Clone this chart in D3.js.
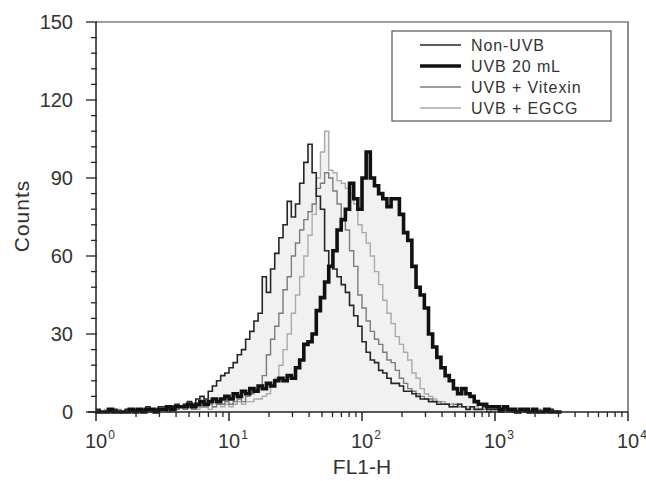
<!DOCTYPE html>
<html>
<head>
<meta charset="utf-8">
<script src="https://cdn.jsdelivr.net/npm/d3@7"></script>
<style>
  body { margin: 0; background: #fff; }
  svg text { font-family: "Liberation Sans", Arial, sans-serif; fill: #333; }
</style>
</head>
<body>
<div id="chart"></div>
<script>
// histogram bins: 32 bins per decade, starting at 10^0
const binsPerDecade = 32;

// counts per bin
const nonUVB = [
  1,0,0,0,1,0, 0,1,0,1,1, 1,2,1,1,2, 2,1,2,3,2, 3,4,3,5,6,
  5,8,10,12,14,15,17,19,22,24,28,31,35,38,52,46,55,61,67,72,81,75,80,88,96,103,
  92,83,78,62,56,55,52,49,46,41,37,33,27,23,20,19,16,15,13,11,11,10,8,8,7,6,5,5,4,
  4,3,3,3,2, 2,3,2,1,2, 1,1,2,1,1, 1,0,1,1,0, 0,1,0,0,1,0,0,0,1,0,0
];
const uvb20 = [
  0,0,0,1,0,0, 0,0,1,0,1, 0,1,1,0,1, 1,2,1,2,2, 2,3,2,3,4,
  3,4,5,4,5, 6,5,7,6,8, 7,9,8,10,9,
  11,10,12,13,12,14,13,17,20,26,27,30,39,44,50,56,62,70,74,78,88,82,78,90,100,
  90,87,84,82,79,82,82,76,69,66,56,48,45,40,30,25,21,17,14,12,9,7,9,7,6,4,3,
  3,2,2,2,1, 2,1,1,0,1,1,0, 1,0,0,1,0,0,0
];
const uvbVitexin = [
  0,0,0,0,0,1, 0,0,0,1,0, 0,1,0,1,1, 1,1,2,1,2, 1,2,1,2,2,
  2,3,2,3,3, 4,3,4,5,4,
  6,7,9,10,14,22,28,33,38,47,52,60,65,70,74,77,80,86,88,92,90,85,80,74,70,62,56,
  45,40,35,31,28,26,23,20,19,16,13,11,9,8,7,6,5,5,
  4,4,3,3,2, 3,2,2,1,2, 1,1,1,0,1,1,0,1,0,0, 0,1,0,0,0,1,0,0,0,0,0
];
const uvbEGCG = [
  0,0,1,0,0,0, 0,0,0,0,1, 0,0,1,0,1, 1,0,1,1,2, 1,2,1,1,2,
  2,1,2,3,2, 3,2,3,4,3,
  4,4,5,5,6,7,10,13,18,24,30,38,45,52,60,68,76,90,100,108,93,92,89,88,86,84,80,
  72,69,65,60,54,49,43,38,34,29,26,23,20,15,13,9,7,6,
  5,4,4,3,3, 2,3,2,2,1, 2,1,1,1,0,1,1,0,1,0, 0,0,1,0,0,0,1,0,0,0,0
];

const seriesNames = ["Non-UVB", "UVB 20 mL", "UVB + Vitexin", "UVB + EGCG"];
const yTicks = [0, 30, 60, 90, 120, 150];
const xDecades = [0, 1, 2, 3, 4];

const series = [
  {name: seriesNames[0], values: nonUVB, color: "#262626", width: 1.6},
  {name: seriesNames[1], values: uvb20, color: "#111", width: 3.6},
  {name: seriesNames[2], values: uvbVitexin, color: "#7c7c7c", width: 1.4},
  {name: seriesNames[3], values: uvbEGCG, color: "#ababab", width: 1.4}
];

const width = 646, height = 481;
const svg = d3.select("#chart").append("svg")
  .attr("width", width)
  .attr("height", height);

const x = d3.scaleLog().domain([1, 10000]).range([96, 628]);
const y = d3.scaleLinear().domain([0, 150]).range([412, 22]);

// turn counts into step points (left bin edge, count) + closing edge
function toSteps(values) {
  const pts = values.map((v, i) => [Math.pow(10, i / binsPerDecade), v]);
  pts.push([Math.pow(10, values.length / binsPerDecade), values[values.length - 1]]);
  return pts;
}

const area = d3.area()
  .x(d => x(d[0]))
  .y0(y(0))
  .y1(d => y(d[1]))
  .curve(d3.curveStepAfter);
const line = d3.line()
  .x(d => x(d[0]))
  .y(d => y(d[1]))
  .curve(d3.curveStepAfter);

// light grey fill under all histograms
svg.append("g").selectAll("path")
  .data(series)
  .join("path")
    .attr("d", d => area(toSteps(d.values)))
    .attr("fill", "#f1f1f1");

// histogram outlines, thick one on top
const drawOrder = [series[3], series[2], series[0], series[1]];
svg.append("g").selectAll("path")
  .data(drawOrder)
  .join("path")
    .attr("d", d => line(toSteps(d.values)))
    .attr("fill", "none")
    .attr("stroke", d => d.color)
    .attr("stroke-width", d => d.width)
    .attr("stroke-linejoin", "miter");

// frame top & right
svg.append("path")
  .attr("d", `M${x(1)},${y(150)}H${x(10000)}V${y(0)}`)
  .attr("fill", "none")
  .attr("stroke", "#444")
  .attr("stroke-width", 1.2);

// Y axis
const yAxis = svg.append("g").attr("transform", `translate(${x(1)},0)`);
yAxis.append("line")
  .attr("y1", y(150)).attr("y2", y(0) + 2)
  .attr("stroke", "#222").attr("stroke-width", 1.5);
yAxis.selectAll(".minor")
  .data(d3.range(0, 151, 6).filter(v => v % 30 !== 0))
  .join("line")
    .attr("x1", -5).attr("x2", 1)
    .attr("y1", d => y(d)).attr("y2", d => y(d))
    .attr("stroke", "#222").attr("stroke-width", 1.3);
yAxis.selectAll(".major")
  .data(yTicks)
  .join("line")
    .attr("x1", -10).attr("x2", 1)
    .attr("y1", d => y(d)).attr("y2", d => y(d))
    .attr("stroke", "#222").attr("stroke-width", 1.3);
yAxis.selectAll("text")
  .data(yTicks)
  .join("text")
    .attr("x", -23)
    .attr("y", d => y(d))
    .attr("dy", "0.36em")
    .attr("text-anchor", "end")
    .attr("font-size", 20)
    .text(d => d);

// X axis
const xAxis = svg.append("g").attr("transform", `translate(0,${y(0)})`);
xAxis.append("line")
  .attr("x1", x(1) - 8).attr("x2", x(10000))
  .attr("stroke", "#222").attr("stroke-width", 1.5);
const minorX = [];
xDecades.slice(0, -1).forEach(k => {
  for (let m = 2; m <= 9; m++) minorX.push(m * Math.pow(10, k));
});
xAxis.selectAll(".minor")
  .data(minorX)
  .join("line")
    .attr("x1", d => x(d)).attr("x2", d => x(d))
    .attr("y1", 0).attr("y2", 5)
    .attr("stroke", "#222").attr("stroke-width", 1.3);
xAxis.selectAll(".major")
  .data(xDecades)
  .join("line")
    .attr("x1", d => x(Math.pow(10, d))).attr("x2", d => x(Math.pow(10, d)))
    .attr("y1", 0).attr("y2", 9)
    .attr("stroke", "#222").attr("stroke-width", 1.5);
const xLabels = xAxis.selectAll("text")
  .data(xDecades)
  .join("text")
    .attr("x", d => x(Math.pow(10, d)) - 11)
    .attr("y", 36)
    .attr("text-anchor", "start")
    .attr("font-size", 20);
xLabels.append("tspan").text("10");
xLabels.append("tspan")
  .attr("dx", 1)
  .attr("dy", -9)
  .attr("font-size", 12)
  .text(d => d);

// axis titles
svg.append("text")
  .attr("transform", `translate(29,216) rotate(-90)`)
  .attr("text-anchor", "middle")
  .attr("font-size", 21)
  .attr("letter-spacing", 1)
  .text("Counts");
svg.append("text")
  .attr("x", 362)
  .attr("y", 474)
  .attr("text-anchor", "middle")
  .attr("font-size", 21)
  .text("FL1-H");

// legend
const legend = svg.append("g").attr("transform", "translate(392,31)");
legend.append("rect")
  .attr("width", 219).attr("height", 90)
  .attr("fill", "#fff")
  .attr("stroke", "#555").attr("stroke-width", 1.2);
const legendRows = legend.selectAll("g")
  .data(series)
  .join("g")
    .attr("transform", (d, i) => `translate(0,${14 + i * 21})`);
legendRows.append("line")
  .attr("x1", 28).attr("x2", 69)
  .attr("stroke", d => d.color)
  .attr("stroke-width", d => d.width);
legendRows.append("text")
  .attr("x", 79)
  .attr("dy", "0.36em")
  .attr("font-size", 16)
  .attr("letter-spacing", 0.9)
  .text(d => d.name);
</script>
</body>
</html>
